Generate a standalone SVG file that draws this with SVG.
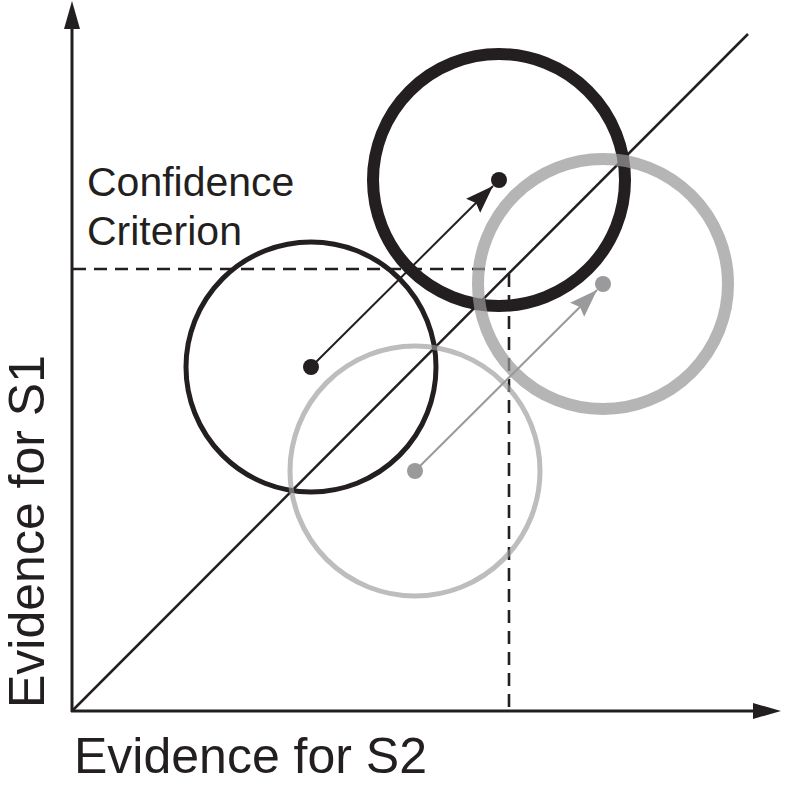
<svg xmlns="http://www.w3.org/2000/svg" width="800" height="804" viewBox="0 0 800 804">
<style>
.ax{stroke:#231f20;stroke-width:3;fill:none}
.dash{stroke:#231f20;stroke-width:2.6;fill:none;stroke-dasharray:13 8}
.diag{stroke:#231f20;stroke-width:2.5;fill:none}
.lbl{font-family:"Liberation Sans",Arial,sans-serif;fill:#231f20}
.blk{stroke:#231f20;fill:none}
.gry{stroke:#999999;fill:none}
</style>
<defs>
<marker id="ahB" markerUnits="userSpaceOnUse" markerWidth="30" markerHeight="20" refX="28" refY="10" orient="auto">
<path d="M0,0 L28,10 L0,20 L4,10 z" fill="#231f20"/>
</marker>
<marker id="ahG" markerUnits="userSpaceOnUse" markerWidth="30" markerHeight="20" refX="28" refY="10" orient="auto">
<path d="M0,0 L28,10 L0,20 L4,10 z" fill="#9a9a9c"/>
</marker>
</defs>
<g id="axes">
<line class="ax" x1="72" y1="712" x2="72" y2="26"/>
<polygon points="72,1 64,29 80,29" fill="#231f20"/>
<line class="ax" x1="71" y1="711" x2="754" y2="711"/>
<polygon points="781,711 753,703 753,719" fill="#231f20"/>
</g>
<g id="connectors">
<line class="diag" x1="72" y1="711" x2="748" y2="34"/>
<polyline class="dash" points="73,269 509,269 509,710"/>
<line class="blk" stroke-width="2" x1="311" y1="367" x2="493" y2="186" marker-end="url(#ahB)"/>
</g>
<g id="node-s1-before">
<circle class="blk" cx="311" cy="367" r="125" stroke-width="5"/>
<circle cx="311" cy="367" r="8" fill="#231f20"/>
</g>
<g id="node-s1-after">
<circle class="blk" cx="499" cy="180" r="126" stroke-width="12"/>
<circle cx="499" cy="180" r="8" fill="#231f20"/>
</g>
<g id="node-s2-before">
<circle class="gry" cx="415" cy="471" r="125" stroke-width="5" stroke-opacity="0.65"/>
</g>
<g id="node-s2-after">
<circle class="gry" cx="603" cy="284" r="125" stroke-width="12" stroke-opacity="0.72"/>
</g>
<g id="gray-arrow">
<line stroke="#9a9a9c" stroke-width="2" x1="415" y1="471" x2="597" y2="290" marker-end="url(#ahG)"/>
<circle cx="415" cy="471" r="8" fill="#9a9a9c"/>
<circle cx="603" cy="284" r="8" fill="#9a9a9c"/>
</g>
<g id="labels">
<text class="lbl" x="87" y="196" font-size="41">Confidence</text>
<text class="lbl" x="87" y="245" font-size="41">Criterion</text>
<text class="lbl" x="74" y="773" font-size="50">Evidence for S2</text>
<text class="lbl" transform="translate(44,708) rotate(-90)" font-size="50">Evidence for S1</text>
</g>
</svg>
